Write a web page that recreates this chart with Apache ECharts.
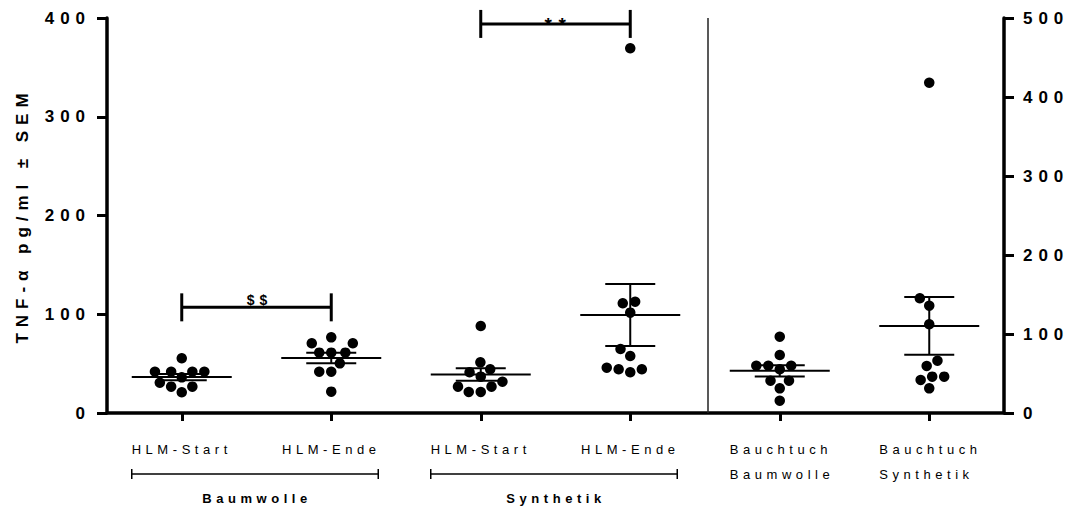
<!DOCTYPE html>
<html><head><meta charset="utf-8">
<script src="https://cdn.jsdelivr.net/npm/echarts@6/dist/echarts.min.js"></script>
<style>
html,body{margin:0;padding:0;background:#fff;}
#chart{width:1076px;height:509px;}
#chart text{letter-spacing:0.35em;}
</style></head><body><div id="chart"></div>
<script>
// ---- data ----
const categories = ['HLM-Start', 'HLM-Ende', 'HLM-Start', 'HLM-Ende', 'Bauchtuch\nBaumwolle', 'Bauchtuch\nSynthetik'];
const groupLabels = ['Baumwolle', 'Synthetik'];
const groupSpans = [[0, 1], [2, 3]];
const leftTicks = [0, 100, 200, 300, 400];
const rightTicks = [0, 100, 200, 300, 400, 500];
const yTitle = 'TNF-α pg/ml ± SEM';

// left axis groups
const baumwolleStart = [55.4, 41.8, 41.8, 41.8, 41.8, 36.1, 30.7, 26.7, 26.7, 21.0];
const baumwolleEnde = [76.6, 70.6, 70.6, 61.1, 61.1, 61.1, 50.3, 41.8, 41.8, 21.6];
const synthetikStart = [88.1, 51.3, 44.3, 41.2, 36.8, 31.7, 26.7, 26.7, 21.3, 21.3];
const synthetikEnde = [369.3, 112.7, 111.1, 101.6, 64.8, 57.7, 45.9, 44.3, 44.3, 41.2];
// right axis groups
const bauchtuchBaumwolle = [96.6, 73.4, 59.9, 59.9, 59.9, 55.3, 40.9, 40.9, 31.2, 15.6];
const bauchtuchSynthetik = [418.1, 145.2, 135.8, 112.3, 66.2, 59.5, 46.0, 46.0, 41.8, 31.2];

const sigFrom = [0, 2];
const sigTo = [1, 3];
const sigLevel = [107, 394];
const sigText = ['$$', '**'];

// ---- rendering ----
const FONT = '"Liberation Sans", Arial, sans-serif';
const chart = echarts.init(document.getElementById('chart'), null, {renderer: 'svg'});

const leftGroups = [baumwolleStart, baumwolleEnde, synthetikStart, synthetikEnde];
const rightGroups = [bauchtuchBaumwolle, bauchtuchSynthetik];

function meanSem(a) {
  const n = a.length;
  const m = a.reduce((s, v) => s + v, 0) / n;
  const sd = Math.sqrt(a.reduce((s, v) => s + (v - m) * (v - m), 0) / (n - 1));
  const sem = sd / Math.sqrt(n);
  return [m, m - sem, m + sem];
}

const axisLineStyle = {color: '#000', width: 3.5};
const baseOption = {
  animation: false,
  grid: {left: 107, right: 72, top: 18, bottom: 96, containLabel: false},
  xAxis: [
    {
      type: 'category', data: categories, position: 'bottom',
      axisLine: {show: true, onZero: false, lineStyle: axisLineStyle},
      axisTick: {show: true, alignWithLabel: true, length: 8, lineStyle: {color: '#000', width: 3}},
      axisLabel: {
        interval: 0, margin: 24, color: '#000', fontFamily: FONT, fontSize: 13, lineHeight: 25,
        formatter: v => v.indexOf('\n') >= 0 ? v.split('\n').map(s => '{l|' + s + '}').join('\n') : v,
        rich: {l: {width: 100, align: 'left', fontFamily: FONT, fontSize: 13, lineHeight: 25, color: '#000'}}
      },
      splitLine: {show: false}
    },
    {type: 'value', min: -0.5, max: 5.5, show: false}
  ],
  yAxis: [
    {
      type: 'value', position: 'left', min: leftTicks[0], max: leftTicks[leftTicks.length - 1], interval: 100,
      axisLine: {show: true, onZero: false, lineStyle: axisLineStyle},
      axisTick: {show: true, length: 10, lineStyle: {color: '#000', width: 3}},
      axisLabel: {margin: 16, color: '#000', fontFamily: FONT, fontSize: 17, fontWeight: 'bold'},
      splitLine: {show: false},
      name: yTitle, nameLocation: 'middle', nameGap: 76,
      nameTextStyle: {color: '#000', fontFamily: FONT, fontSize: 17, fontWeight: 'bold'}
    },
    {
      type: 'value', position: 'right', min: rightTicks[0], max: rightTicks[rightTicks.length - 1], interval: 100,
      axisLine: {show: true, onZero: false, lineStyle: axisLineStyle},
      axisTick: {show: true, length: 10, lineStyle: {color: '#000', width: 3}},
      axisLabel: {margin: 19, color: '#000', fontFamily: FONT, fontSize: 17, fontWeight: 'bold'},
      splitLine: {show: false}
    }
  ],
  series: []
};
chart.setOption(baseOption);

const D = 12; // collision distance in px
function swarm(values, cat, yAxisIndex) {
  const unit = chart.convertToPixel({xAxisIndex: 1}, 1) - chart.convertToPixel({xAxisIndex: 1}, 0);
  const pts = values.map(v => ({v: v, y: chart.convertToPixel({yAxisIndex: yAxisIndex}, v), x: 0}));
  const order = pts.slice().sort((a, b) => a.v - b.v);
  const placed = [];
  order.forEach(p => {
    const cands = [0];
    placed.forEach(q => {
      const dy = p.y - q.y;
      if (Math.abs(dy) < D) {
        const dx = Math.sqrt(D * D - dy * dy);
        cands.push(q.x + dx, q.x - dx);
      }
    });
    cands.sort((a, b) => (Math.abs(a) - Math.abs(b)) || (a - b));
    for (const c of cands) {
      if (placed.every(q => (q.x - c) * (q.x - c) + (q.y - p.y) * (q.y - p.y) >= D * D - 1e-6)) { p.x = c; break; }
    }
    placed.push(p);
  });
  return pts.map(p => [cat + p.x / unit, p.v]);
}

const leftDots = [];
leftGroups.forEach((g, i) => swarm(g, i, 0).forEach(d => leftDots.push(d)));
const rightDots = [];
rightGroups.forEach((g, i) => swarm(g, i + 4, 1).forEach(d => rightDots.push(d)));

const leftStats = leftGroups.map((g, i) => [i].concat(meanSem(g)));
const rightStats = rightGroups.map((g, i) => [i + 4].concat(meanSem(g)));

function statRender(params, api) {
  const c = api.value(0);
  const pm = api.coord([c, api.value(1)]);
  const pl = api.coord([c, api.value(2)]);
  const ph = api.coord([c, api.value(3)]);
  const st = {stroke: '#000', lineWidth: 2};
  return {type: 'group', children: [
    {type: 'line', shape: {x1: pm[0] - 50, y1: pm[1], x2: pm[0] + 50, y2: pm[1]}, style: st},
    {type: 'line', shape: {x1: pl[0], y1: pl[1], x2: ph[0], y2: ph[1]}, style: st},
    {type: 'line', shape: {x1: pl[0] - 25, y1: pl[1], x2: pl[0] + 25, y2: pl[1]}, style: st},
    {type: 'line', shape: {x1: ph[0] - 25, y1: ph[1], x2: ph[0] + 25, y2: ph[1]}, style: st}
  ]};
}

const sigData = sigFrom.map((f, i) => [f, sigTo[i], sigLevel[i]]);
function sigRender(params, api) {
  const a = api.coord([api.value(0), api.value(2)]);
  const b = api.coord([api.value(1), api.value(2)]);
  const st = {stroke: '#000', lineWidth: 3};
  const txt = sigText[params.dataIndex];
  const isStar = txt.indexOf('*') >= 0;
  return {type: 'group', children: [
    {type: 'line', shape: {x1: a[0], y1: a[1], x2: b[0], y2: b[1]}, style: st},
    {type: 'line', shape: {x1: a[0], y1: a[1] - 14, x2: a[0], y2: a[1] + 14}, style: st},
    {type: 'line', shape: {x1: b[0], y1: b[1] - 14, x2: b[0], y2: b[1] + 14}, style: st},
    {type: 'text', style: {text: txt, x: (a[0] + b[0]) / 2 + 3, y: a[1] + (isStar ? 10 : 0), textAlign: 'center', textVerticalAlign: 'bottom',
      fill: '#000', font: 'bold ' + (isStar ? 19 : 14) + 'px ' + FONT}}
  ]};
}

chart.setOption({
  series: [
    {type: 'scatter', xAxisIndex: 1, yAxisIndex: 0, data: leftDots, symbol: 'circle', symbolSize: 10.5,
      itemStyle: {color: '#000', opacity: 1}, silent: true, z: 3,
      markLine: {silent: true, symbol: ['none', 'none'], label: {show: false},
        lineStyle: {color: '#222', width: 1.5, type: 'solid'}, data: [{xAxis: 3.52}]}},
    {type: 'scatter', xAxisIndex: 1, yAxisIndex: 1, data: rightDots, symbol: 'circle', symbolSize: 10.5,
      itemStyle: {color: '#000', opacity: 1}, silent: true, z: 3},
    {type: 'custom', xAxisIndex: 1, yAxisIndex: 0, data: leftStats, renderItem: statRender, silent: true, z: 4},
    {type: 'custom', xAxisIndex: 1, yAxisIndex: 1, data: rightStats, renderItem: statRender, silent: true, z: 4},
    {type: 'custom', xAxisIndex: 1, yAxisIndex: 0, data: sigData, renderItem: sigRender, silent: true, z: 4, clip: false}
  ]
});

// group brackets under the category labels
const gfx = [];
groupSpans.forEach((s, i) => {
  const x1 = chart.convertToPixel({xAxisIndex: 1}, s[0]) - 50;
  const x2 = chart.convertToPixel({xAxisIndex: 1}, s[1]) + 47;
  const y = 474;
  const ls = {stroke: '#000', lineWidth: 1.5};
  gfx.push({type: 'line', shape: {x1: x1, y1: y, x2: x2, y2: y}, style: ls});
  gfx.push({type: 'line', shape: {x1: x1, y1: y - 5, x2: x1, y2: y + 5}, style: ls});
  gfx.push({type: 'line', shape: {x1: x2, y1: y - 5, x2: x2, y2: y + 5}, style: ls});
  gfx.push({type: 'text', x: (x1 + x2) / 2 + 2, y: 498, style: {text: groupLabels[i], textAlign: 'center', textVerticalAlign: 'middle',
    fill: '#000', font: 'bold 13px ' + FONT}});
});
chart.setOption({graphic: gfx});
</script></body></html>
